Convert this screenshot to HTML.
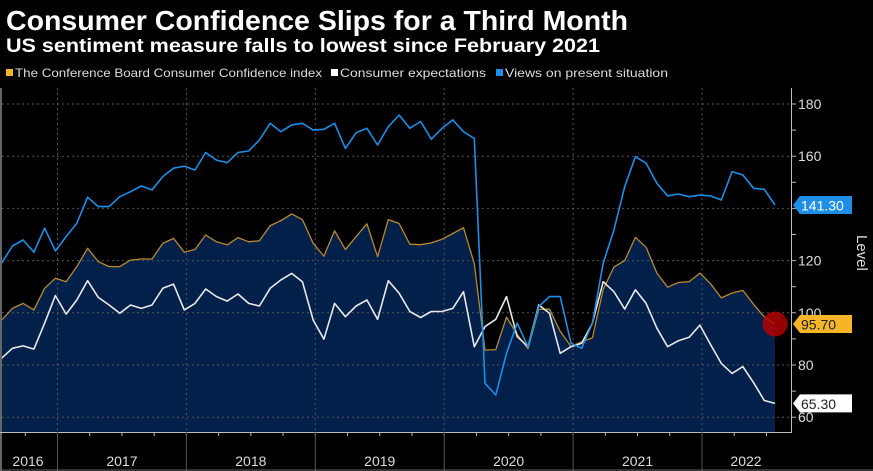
<!DOCTYPE html>
<html><head><meta charset="utf-8">
<style>
body{margin:0;background:#000;width:873px;height:471px;overflow:hidden;font-family:"Liberation Sans",sans-serif}
svg{display:block}
</style></head>
<body>
<svg id="c" width="873" height="471">
<rect x="0" y="0" width="873" height="471" fill="#000"/>
<text x="6" y="30" fill="#fff" font-size="28" font-weight="bold" textLength="622" lengthAdjust="spacingAndGlyphs">Consumer Confidence Slips for a Third Month</text>
<text x="6" y="52" fill="#fff" font-size="19" font-weight="bold" textLength="594" lengthAdjust="spacingAndGlyphs">US sentiment measure falls to lowest since February 2021</text>
<g font-size="12" fill="#ddd">
<g><rect x="6" y="69" width="7" height="7" fill="#f5b529"/><text x="15" y="77" textLength="307" lengthAdjust="spacingAndGlyphs">The Conference Board Consumer Confidence index</text></g>
<g><rect x="331" y="69" width="7" height="7" fill="#fff"/><text x="340" y="77" textLength="146" lengthAdjust="spacingAndGlyphs">Consumer expectations</text></g>
<g><rect x="496" y="69" width="7" height="7" fill="#1e90e8"/><text x="505" y="77" textLength="163" lengthAdjust="spacingAndGlyphs">Views on present situation</text></g>
</g>
<g id="plot"></g>
</svg>
<script>
const years=["2016","2017","2018","2019","2020","2021","2022"];
const yTicks=[60,80,100,120,140,160,180];
const cbIndex=[97.2,101.7,103.6,101.1,109.4,113.2,
111.9,117.7,124.7,119.6,117.7,117.7,120.2,120.6,120.6,126.6,128.5,123.2,
124.3,129.8,127.2,126,128.8,127.2,127.6,133.4,135.3,137.9,135.7,126.6,
121.7,131.4,124.2,129.2,134.1,121.5,135.7,134.2,126.3,126.1,126.8,128.2,
130.4,132.6,118.8,85.7,85.9,98.3,91.7,86.3,101.3,101.4,92.9,87.1,
88.9,90.4,109,117.5,120,128.9,125.1,115.2,109.8,111.6,111.9,115.2,
111.1,105.7,107.6,108.6,103.2,98.4,95.7];
const expectations=[82.6,86.4,87.3,86.1,96,106.6,99.5,104.9,112.3,105.9,103,99.8,103,101.7,103,109.4,111,101.1,103.6,109.1,106.2,104.5,107.2,103.6,102.6,
109.4,112.6,115.1,111.9,97.2,89.9,103.6,98.5,102.6,104.9,97.5,112.3,107.5,100.5,98.2,100.5,100.5,101.7,108.1,87,94.7,97.5,
106.2,90.9,87,103,99.8,84.5,87,88.3,96,111.9,108.1,101.4,108.8,103.6,94.1,87,89.3,90.6,95.3,87.8,80.6,76.8,79.4,73.2,66.4,65.3];
const present=[119,125.6,127.9,123.2,132.4,123.7,129.2,134.3,144.3,140.7,140.7,144.5,146.4,148.6,147.1,152.2,155.4,156.2,154.7,161.4,158.5,157.5,161.4,162,166.2,
172.6,169.4,172,172.6,170,170.3,172.6,163,169,170.7,164.3,171.3,175.8,170.7,173.3,166.5,170.7,173.9,169.4,166.8,73,68.5,
84.5,96,87,102.4,106.2,106.2,88.3,86.4,96,119,131.7,148.3,159.8,157.3,149.6,144.8,145.5,144.5,145.1,144.8,143.2,154.1,152.8,147.7,147.3,141.3];
const lastLabels=["141.30","95.70","65.30"];

const NS="http://www.w3.org/2000/svg";
const g=document.getElementById('plot');
const yearW=128.9, monthW=yearW/12, x2017=57.5;
const startMonth=6;
function xm(i){const m=(startMonth+i)-12; return x2017+(m+0.8)*monthW;}
function xy(yr){return x2017+(yr-2017)*yearW;}
function yv(v){return 104+(180-v)*2.61;}
const plotTop=88, plotBot=432, plotRight=790;
function mk(t,a,p){const e=document.createElementNS(NS,t);for(const k in a)e.setAttribute(k,a[k]);(p||g).appendChild(e);return e;}

let d="M"+xm(0)+","+plotBot;
cbIndex.forEach((v,i)=>{d+=" L"+xm(i).toFixed(1)+","+yv(v).toFixed(1);});
d+=" L"+xm(cbIndex.length-1).toFixed(1)+","+plotBot+" Z";
const area=mk('path',{d:d,fill:'#02204a'});



yTicks.forEach(t=>{
 const l=mk('line',{x1:2,x2:plotRight,y1:yv(t),y2:yv(t),stroke:'#555','stroke-dasharray':'2,3','stroke-width':1});
 
 
});
for(let yr=2017;yr<=2022;yr++){
 const l=mk('line',{x1:xy(yr),x2:xy(yr),y1:plotTop,y2:plotBot,stroke:'#555','stroke-dasharray':'2,3'});
 
 
}
function line(arr,color,name,w){
 let p="";arr.forEach((v,i)=>{p+=(i?" L":"M")+xm(i).toFixed(1)+","+yv(v).toFixed(1);});
 const e=mk('path',{d:p,fill:'none',stroke:color,'stroke-width':w,'stroke-linejoin':'round'});
 
 
}
line(cbIndex,'#b8892e','index-line',1.3);
line(expectations,'#e8e8e8','expectations-line',1.6);
line(present,'#1e8ee6','present-line',1.6);

const li=cbIndex.length-1;
const dot=mk('circle',{cx:xm(li),cy:yv(cbIndex[li]),r:12.5,fill:'rgba(190,0,0,0.8)'});



const la=mk('line',{x1:1,x2:1,y1:plotTop,y2:471,stroke:'#666','stroke-width':2});


const ya=mk('line',{x1:791.5,x2:791.5,y1:plotTop,y2:plotBot,stroke:'#bbb','stroke-width':1});


const xa=mk('line',{x1:0,x2:792,y1:plotBot+0.5,y2:plotBot+0.5,stroke:'#bbb'});


for(let v=60;v<=180;v+=10){
 const t=mk('line',{x1:791,x2:796,y1:yv(v),y2:yv(v),stroke:'#bbb'});
 
 
}
yTicks.forEach(v=>{
 const t=mk('text',{x:798,y:yv(v)+5,fill:'#ddd','font-size':14});
 t.textContent=v;
 
 
});
const lv=mk('text',{x:0,y:0,fill:'#ddd','font-size':15,transform:'translate(857,235) rotate(90)'});
lv.textContent='Level';



for(let q=0;q<28;q++){
 const x=x2017+(q-4)*yearW/4; if(x<0||x>plotRight)continue;
 const t=mk('line',{x1:x,x2:x,y1:plotBot,y2:plotBot+4,stroke:'#bbb'});
 
 
}
for(let yr=2017;yr<=2022;yr++){
 const s=mk('line',{x1:xy(yr),x2:xy(yr),y1:plotBot,y2:471,stroke:'#555'});
 
 
}
years.forEach((y,i)=>{
 const yr=2016+i;
 let cx = yr===2016 ? 28 : (yr===2022 ? (xy(2022)+plotRight)/2 : xy(yr)+yearW/2);
 const t=mk('text',{x:cx,y:466,fill:'#ddd','font-size':14,'text-anchor':'middle'});
 t.textContent=y;
 
 
});
const bb=mk('line',{x1:0,x2:873,y1:470,y2:470,stroke:'#666'});



const tags=[[present[li],'#1e8ee6','#fff'],[cbIndex[li],'#f5b529','#222'],[expectations[li],'#fff','#222']];
tags.forEach((tg,i)=>{
 const y=yv(tg[0]);
 const p=mk('path',{d:`M793,${y} L800,${y-9} L852,${y-9} L852,${y+9} L800,${y+9} Z`,fill:tg[1]});
 
 
 const t=mk('text',{x:801,y:y+5.5,fill:tg[2],'font-size':14});
 t.textContent=lastLabels[i];
 
 
});
</script>
</body></html>
